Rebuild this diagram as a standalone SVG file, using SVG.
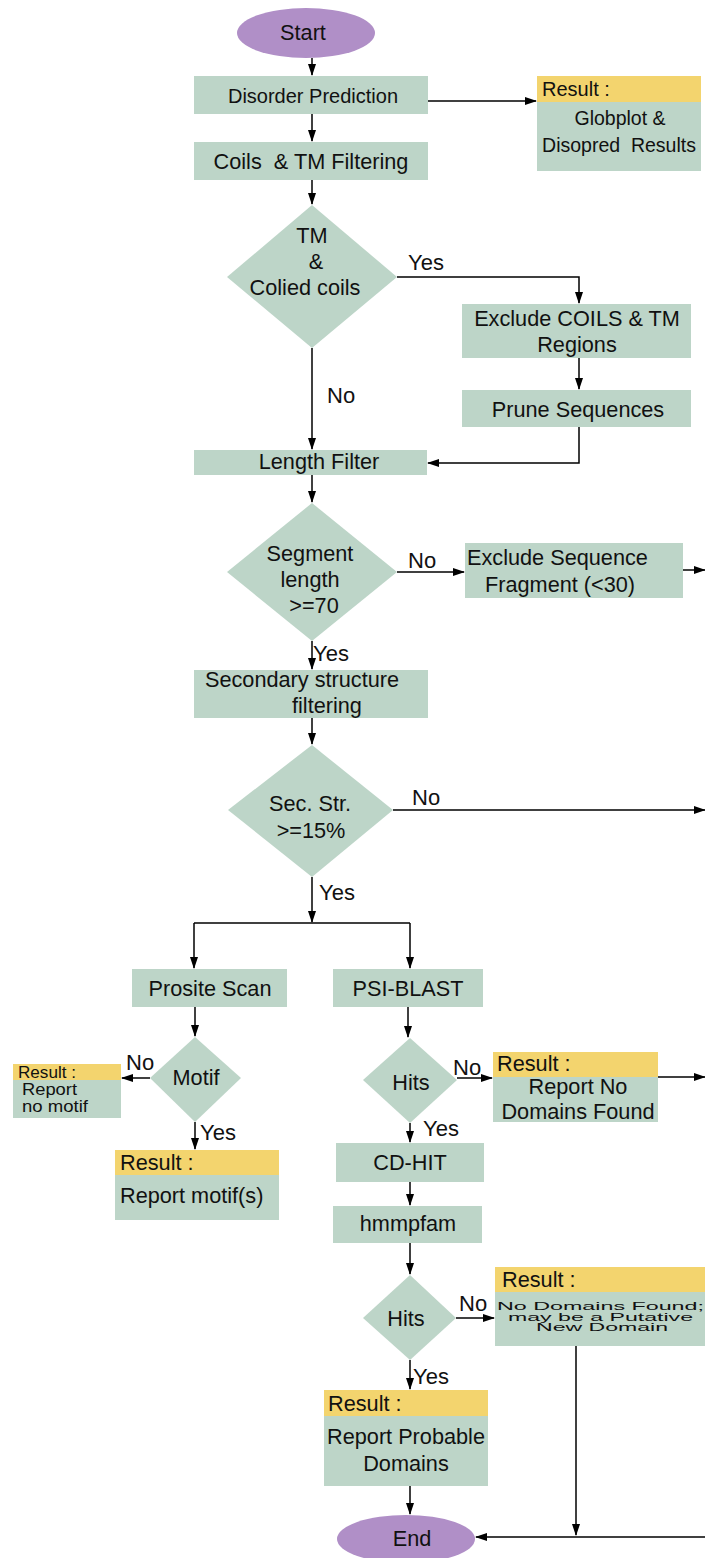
<svg xmlns="http://www.w3.org/2000/svg" width="705" height="1558" viewBox="0 0 705 1558">
<defs>
<marker id="ah" markerWidth="12" markerHeight="8" refX="11" refY="4" orient="auto" markerUnits="userSpaceOnUse"><path d="M0,0 L12,4 L0,8 z" fill="#000"/></marker>
<style>
.box{fill:#bdd5c8}
.hdr{fill:#f3d46e}
.term{fill:#b08fc7}
.t{font-family:"Liberation Sans",Arial,Helvetica,sans-serif;font-size:21.7px;fill:#111}
.c{text-anchor:middle}
.s{font-size:16px}
.w{font-size:10.5px}
.e{fill:none;stroke:#000;stroke-width:1.5;marker-end:url(#ah)}
.l{fill:none;stroke:#000;stroke-width:1.5}
</style>
</defs>
<rect width="705" height="1558" fill="#fff"/>

<g id="connectors">
<path class="e" d="M312,58 V75"/>
<path class="e" d="M312,114 V141"/>
<path class="e" d="M428,101 H536"/>
<path class="e" d="M312,180 V204"/>
<path class="e" d="M397,277 H579 V303"/>
<path class="e" d="M579,358 V389"/>
<path class="e" d="M579,427 V463 H428"/>
<path class="e" d="M312,348 V449"/>
<path class="e" d="M312,475 V502"/>
<path class="e" d="M397,572 H464"/>
<path class="e" d="M683,570 H705"/>
<path class="e" d="M312,641 V669"/>
<path class="e" d="M312,718 V744"/>
<path class="e" d="M393,810 H705"/>
<path class="e" d="M312,877 V922"/>
<path class="l" d="M194,923 H410"/>
<path class="e" d="M194,923 V968"/>
<path class="e" d="M410,923 V968"/>
<path class="e" d="M195,1007 V1036"/>
<path class="e" d="M150,1078 H122"/>
<path class="e" d="M195,1122 V1149"/>
<path class="e" d="M408,1007 V1037"/>
<path class="e" d="M457,1078 H492"/>
<path class="e" d="M658,1077 H705"/>
<path class="e" d="M410,1123 V1142"/>
<path class="e" d="M410,1182 V1205"/>
<path class="e" d="M410,1243 V1274"/>
<path class="e" d="M456,1318 H494"/>
<path class="e" d="M410,1360 V1389"/>
<path class="e" d="M576,1346 V1535"/>
<path class="e" d="M705,1537 H476"/>
<path class="e" d="M410,1486 V1514"/>
</g>

<g id="labels" class="t" style="font-size:22px">
<text x="408" y="270">Yes</text>
<text x="327" y="403">No</text>
<text x="408" y="568">No</text>
<text x="313" y="661">Yes</text>
<text x="412" y="805">No</text>
<text x="319" y="900">Yes</text>
<text x="126" y="1070">No</text>
<text x="200" y="1140">Yes</text>
<text x="453" y="1075">No</text>
<text x="423" y="1136">Yes</text>
<text x="459" y="1311">No</text>
<text x="413" y="1384">Yes</text>
</g>

<g id="start">
<ellipse class="term" cx="306" cy="33" rx="69" ry="25"/>
<text class="t c" x="303" y="40">Start</text>
</g>

<g id="disorder">
<rect class="box" x="194" y="76" width="234" height="38"/>
<text class="t c" x="313" y="103" style="font-size:20px">Disorder Prediction</text>
</g>

<g id="result-globplot">
<rect class="box" x="537" y="76" width="164" height="95"/>
<rect class="hdr" x="537" y="76" width="164" height="26"/>
<text class="t" x="542" y="96" style="font-size:20px">Result :</text>
<text class="t c" x="620" y="125" style="font-size:19.5px">Globplot &amp;</text>
<text class="t c" x="619" y="152" style="font-size:19.5px" xml:space="preserve">Disopred  Results</text>
</g>

<g id="coils-filter">
<rect class="box" x="194" y="142" width="234" height="38"/>
<text class="t c" x="311" y="169" xml:space="preserve">Coils  &amp; TM Filtering</text>
</g>

<g id="tm-decision">
<polygon class="box" points="312,205 397,277 312,348 227,277"/>
<text class="t c" x="312" y="243">TM</text>
<text class="t c" x="316" y="269">&amp;</text>
<text class="t c" x="305" y="295">Colied coils</text>
</g>

<g id="exclude-coils">
<rect class="box" x="462" y="304" width="229" height="54"/>
<text class="t c" x="577" y="326">Exclude COILS &amp; TM</text>
<text class="t c" x="577" y="352">Regions</text>
</g>

<g id="prune">
<rect class="box" x="462" y="390" width="229" height="37"/>
<text class="t c" x="578" y="417">Prune Sequences</text>
</g>

<g id="length-filter">
<rect class="box" x="194" y="450" width="233" height="25"/>
<text class="t c" x="319" y="469">Length Filter</text>
</g>

<g id="segment-decision">
<polygon class="box" points="312,503 397,572 312,641 227,572"/>
<text class="t c" x="310" y="561">Segment</text>
<text class="t c" x="310" y="587">length</text>
<text class="t c" x="314" y="613">&gt;=70</text>
</g>

<g id="exclude-fragment">
<rect class="box" x="465" y="543" width="218" height="55"/>
<text class="t" x="467" y="565">Exclude Sequence</text>
<text class="t" x="485" y="592">Fragment (&lt;30)</text>
</g>

<g id="secondary">
<rect class="box" x="194" y="670" width="234" height="48"/>
<text class="t" x="205" y="687">Secondary structure</text>
<text class="t" x="292" y="713">filtering</text>
</g>

<g id="secstr-decision">
<polygon class="box" points="312,745 393,810 312,877 228,810"/>
<text class="t c" x="310" y="811">Sec. Str.</text>
<text class="t c" x="311" y="838">&gt;=15%</text>
</g>

<g id="prosite">
<rect class="box" x="132" y="969" width="155" height="38"/>
<text class="t c" x="210" y="996">Prosite Scan</text>
</g>

<g id="psiblast">
<rect class="box" x="333" y="969" width="150" height="38"/>
<text class="t c" x="408" y="996">PSI-BLAST</text>
</g>

<g id="motif-decision">
<polygon class="box" points="195,1037 241,1078 195,1122 150,1078"/>
<text class="t c" x="196" y="1085">Motif</text>
</g>

<g id="result-nomotif">
<rect class="box" x="13" y="1064" width="108" height="54"/>
<rect class="hdr" x="13" y="1064" width="108" height="16"/>
<text class="t s" x="18" y="1078" textLength="58" lengthAdjust="spacingAndGlyphs">Result :</text>
<text class="t s" x="22" y="1095" textLength="55" lengthAdjust="spacingAndGlyphs">Report</text>
<text class="t s" x="22" y="1112" textLength="66" lengthAdjust="spacingAndGlyphs">no motif</text>
</g>

<g id="result-motif">
<rect class="box" x="115" y="1150" width="164" height="70"/>
<rect class="hdr" x="115" y="1150" width="164" height="25"/>
<text class="t" x="120" y="1170">Result :</text>
<text class="t" x="120" y="1203">Report motif(s)</text>
</g>

<g id="hits1-decision">
<polygon class="box" points="410,1038 457,1080 410,1123 363,1080"/>
<text class="t c" x="411" y="1090">Hits</text>
</g>

<g id="result-nodomains">
<rect class="box" x="493" y="1052" width="165" height="70"/>
<rect class="hdr" x="493" y="1052" width="165" height="25"/>
<text class="t" x="497" y="1071">Result :</text>
<text class="t c" x="578" y="1094">Report No</text>
<text class="t c" x="578" y="1119">Domains Found</text>
</g>

<g id="cdhit">
<rect class="box" x="336" y="1143" width="148" height="39"/>
<text class="t c" x="410" y="1170">CD-HIT</text>
</g>

<g id="hmmpfam">
<rect class="box" x="333" y="1206" width="149" height="37"/>
<text class="t c" x="408" y="1231">hmmpfam</text>
</g>

<g id="hits2-decision">
<polygon class="box" points="410,1275 456,1318 410,1360 363,1318"/>
<text class="t c" x="406" y="1326">Hits</text>
</g>

<g id="result-putative">
<rect class="box" x="495" y="1267" width="212" height="79"/>
<rect class="hdr" x="495" y="1267" width="212" height="25"/>
<text class="t" x="502" y="1287">Result :</text>
<text class="t w" x="497" y="1310" textLength="207" lengthAdjust="spacingAndGlyphs">No Domains Found;</text>
<text class="t w" x="508" y="1320.5" textLength="185" lengthAdjust="spacingAndGlyphs">may be a Putative</text>
<text class="t w" x="536" y="1331" textLength="132" lengthAdjust="spacingAndGlyphs">New Domain</text>
</g>

<g id="result-probable">
<rect class="box" x="324" y="1390" width="164" height="96"/>
<rect class="hdr" x="324" y="1390" width="164" height="26"/>
<text class="t" x="328" y="1411">Result :</text>
<text class="t c" x="406" y="1444">Report Probable</text>
<text class="t c" x="406" y="1471">Domains</text>
</g>

<g id="end">
<ellipse class="term" cx="406" cy="1539" rx="69" ry="24"/>
<text class="t c" x="412" y="1546">End</text>
</g>
</svg>
